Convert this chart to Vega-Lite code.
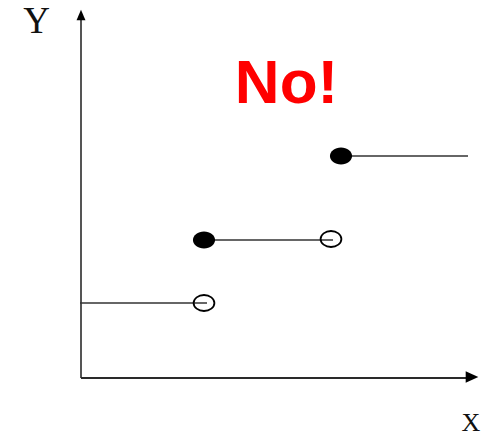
{
  "$schema": "https://vega.github.io/schema/vega-lite/v6.json",
  "width": 489,
  "height": 438,
  "autosize": {"type": "none"},
  "padding": 0,
  "background": "white",
  "config": {"view": {"stroke": null}},
  "datasets": {
    "axes": [
      {"axis": "y", "x": 0, "x2": 0, "y": 0, "y2": 358},
      {"axis": "x", "x": 0, "x2": 386, "y": 0, "y2": 0}
    ],
    "segments": [
      {"step": 1, "x": -1, "x2": 126, "y": 75},
      {"step": 2, "x": 123, "x2": 252, "y": 138},
      {"step": 3, "x": 260, "x2": 387, "y": 222}
    ],
    "open": [
      {"x": 123, "y": 75},
      {"x": 250, "y": 139}
    ],
    "closed": [
      {"x": 123, "y": 138},
      {"x": 260, "y": 222}
    ],
    "labels": [
      {"text": "Y", "x": -44.5, "y": 345, "size": 37},
      {"text": "X", "x": 390, "y": -53, "size": 26}
    ]
  },
  "encoding": {
    "x": {"type": "quantitative", "scale": {"domain": [-81, 408], "nice": false, "zero": false}, "axis": null},
    "y": {"type": "quantitative", "scale": {"domain": [-60, 378], "nice": false, "zero": false}, "axis": null}
  },
  "layer": [
    {
      "data": {"name": "axes"},
      "mark": {"type": "rule", "strokeWidth": 2},
      "encoding": {
        "x": {"field": "x", "type": "quantitative"},
        "x2": {"field": "x2"},
        "y": {"field": "y", "type": "quantitative"},
        "y2": {"field": "y2"},
        "color": {"field": "axis", "type": "nominal", "scale": {"domain": ["x", "y"], "range": ["#2a2a2a", "#555555"]}, "legend": null}
      }
    },
    {
      "data": {"values": [{"dir": "up", "x": 0, "y": 363}]},
      "mark": {"type": "point", "filled": true, "color": "#000000", "opacity": 1, "shape": "M0,-1L-0.85,1L0.85,1Z", "size": 110},
      "encoding": {
        "x": {"field": "x", "type": "quantitative"},
        "y": {"field": "y", "type": "quantitative"}
      }
    },
    {
      "data": {"values": [{"dir": "right", "x": 391, "y": 1}]},
      "mark": {"type": "point", "filled": true, "color": "#000000", "opacity": 1, "shape": "M1,0L-1,-0.9L-1,0.9Z", "size": 160},
      "encoding": {
        "x": {"field": "x", "type": "quantitative"},
        "y": {"field": "y", "type": "quantitative"}
      }
    },
    {
      "data": {"name": "segments"},
      "mark": {"type": "rule", "strokeWidth": 1.6, "color": "#333333"},
      "encoding": {
        "x": {"field": "x", "type": "quantitative"},
        "x2": {"field": "x2"},
        "y": {"field": "y", "type": "quantitative"}
      }
    },
    {
      "data": {"name": "open"},
      "mark": {"type": "point", "filled": false, "stroke": "#000000", "strokeWidth": 1.8, "opacity": 1, "shape": "M-1.3,0A1.3,1,0,1,1,1.3,0A1.3,1,0,1,1,-1.3,0Z", "size": 256},
      "encoding": {
        "x": {"field": "x", "type": "quantitative"},
        "y": {"field": "y", "type": "quantitative"}
      }
    },
    {
      "data": {"name": "closed"},
      "mark": {"type": "point", "filled": true, "color": "#000000", "opacity": 1, "shape": "M-1.3,0A1.3,1,0,1,1,1.3,0A1.3,1,0,1,1,-1.3,0Z", "size": 289},
      "encoding": {
        "x": {"field": "x", "type": "quantitative"},
        "y": {"field": "y", "type": "quantitative"}
      }
    },
    {
      "data": {"name": "labels"},
      "mark": {"type": "text", "font": "Liberation Serif", "color": "#111111", "align": "center", "baseline": "alphabetic"},
      "encoding": {
        "x": {"field": "x", "type": "quantitative"},
        "y": {"field": "y", "type": "quantitative"},
        "text": {"field": "text"},
        "size": {"field": "size", "type": "quantitative", "scale": null}
      }
    },
    {
      "data": {"values": [{"text": "No!", "x": 205.5, "y": 275}]},
      "mark": {"type": "text", "font": "Liberation Sans", "fontWeight": "bold", "fontSize": 62, "color": "#ff0000", "align": "center", "baseline": "alphabetic"},
      "encoding": {
        "x": {"field": "x", "type": "quantitative"},
        "y": {"field": "y", "type": "quantitative"},
        "text": {"field": "text"}
      }
    }
  ]
}
